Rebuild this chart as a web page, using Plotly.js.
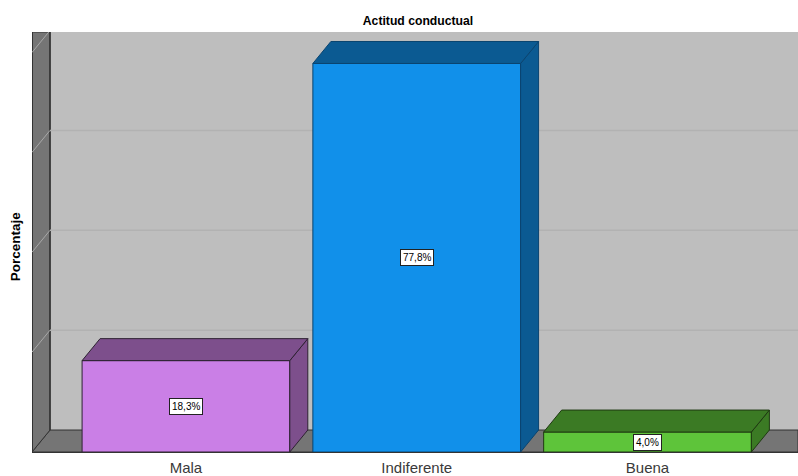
<!DOCTYPE html>
<html>
<head>
<meta charset="utf-8">
<script src="https://cdn.plot.ly/plotly-3.0.1.min.js"></script>
<style>html,body{margin:0;padding:0;background:#fff}#chart{width:798px;height:476px}</style>
</head>
<body>
<div id="chart"></div>
<script>
const categories = ["Mala", "Indiferente", "Buena"];
const values = [18.3, 77.8, 4.0];
const valueLabels = ["18,3%", "77,8%", "4,0%"];
const frontColors = ["#CA7FE6", "#1190EA", "#5EC43A"];
const sideColors = ["#7D4F8C", "#0B5A92", "#3B7A24"];
const edgeColors = ["#2E2233", "#0A4470", "#1F3A12"];
const gridTicks = [20, 40, 60, 80];

const positions = categories.map((_, i) => i);
const barWidth = 0.9;
const depthX = 0.078;
const depthY = 4.4;
const xMin = -0.667, xMax = 2.652, yMax = 84.1;
const fontFamily = "Liberation Sans, Arial, sans-serif";

const traces = [{
  type: "bar", x: positions, y: values, width: barWidth,
  marker: {color: frontColors, line: {color: edgeColors, width: 1}},
  hoverinfo: "skip", showlegend: false
}];
values.forEach((v, i) => {
  const l = i - barWidth / 2, r = i + barWidth / 2;
  const common = {type: "scatter", mode: "lines", fill: "toself", fillcolor: sideColors[i],
    line: {color: edgeColors[i], width: 1}, hoverinfo: "skip", showlegend: false};
  traces.push(Object.assign({
    x: [r, r + depthX, r + depthX, r, r],
    y: [0, depthY, v + depthY, v, 0]
  }, common));
  traces.push(Object.assign({
    x: [l, l + depthX, r + depthX, r, l],
    y: [v, v + depthY, v + depthY, v, v]
  }, common));
});

const wallX = xMin + depthX;
const shapes = [
  {type: "path", layer: "below", xref: "x", yref: "y", fillcolor: "#757575",
   line: {color: "#333333", width: 1},
   path: `M ${xMin} 0 L ${xMax} 0 L ${xMax} ${depthY} L ${wallX} ${depthY} Z`},
  {type: "path", layer: "below", xref: "x", yref: "y", fillcolor: "#757575",
   line: {color: "#333333", width: 1},
   path: `M ${xMin} 0 L ${wallX} ${depthY} L ${wallX} ${yMax} L ${xMin} ${yMax} Z`},
  {type: "line", layer: "below", xref: "x", yref: "y", x0: wallX, x1: wallX, y0: depthY, y1: yMax,
   line: {color: "#333333", width: 1.5}},
  {type: "line", layer: "below", xref: "x", yref: "y", x0: xMin, x1: xMin, y0: 0, y1: yMax,
   line: {color: "#333333", width: 2}}
];
gridTicks.forEach(t => {
  shapes.push({type: "line", layer: "below", xref: "x", yref: "y",
    x0: wallX, x1: xMax, y0: t + depthY, y1: t + depthY,
    line: {color: "#B2B2B2", width: 1.5}});
  shapes.push({type: "line", layer: "below", xref: "x", yref: "y",
    x0: xMin, x1: wallX, y0: t, y1: t + depthY,
    line: {color: "#A8A8A8", width: 1}});
});

const annotations = values.map((v, i) => ({
  x: i, y: v / 2, xref: "x", yref: "y", text: valueLabels[i], showarrow: false,
  font: {family: fontFamily, size: 10, color: "#000"},
  bgcolor: "#FFFFFF", bordercolor: "#222222", borderwidth: 1, borderpad: 2
}));
annotations.push({
  x: 0, xshift: -17, y: 0.49, xref: "paper", yref: "paper", yanchor: "middle", xanchor: "center",
  text: "<b>Porcentaje</b>", textangle: -90, showarrow: false,
  font: {family: fontFamily, size: 13.5, color: "#000"}
});

Plotly.newPlot("chart", traces, {
  width: 798, height: 476,
  margin: {l: 32, r: 0, t: 32, b: 23.5, pad: 0},
  paper_bgcolor: "#FFFFFF", plot_bgcolor: "#BEBEBE",
  showlegend: false,
  title: {text: "<b>Actitud conductual</b>", x: 418 / 798, xanchor: "center", y: 0.957, yanchor: "middle",
    font: {family: fontFamily, size: 12.2, color: "#000"}},
  xaxis: {range: [xMin, xMax], tickvals: positions, ticktext: categories, showgrid: false, zeroline: false,
    showline: true, linecolor: "#333333", linewidth: 1, ticks: "outside", ticklen: 2, tickcolor: "rgba(0,0,0,0)",
    tickfont: {family: fontFamily, size: 15, color: "#3A3A3A"}},
  yaxis: {range: [0, yMax], showgrid: false, zeroline: false, showticklabels: false, ticks: ""},
  shapes, annotations
}, {displayModeBar: false, staticPlot: true});
</script>
</body>
</html>
